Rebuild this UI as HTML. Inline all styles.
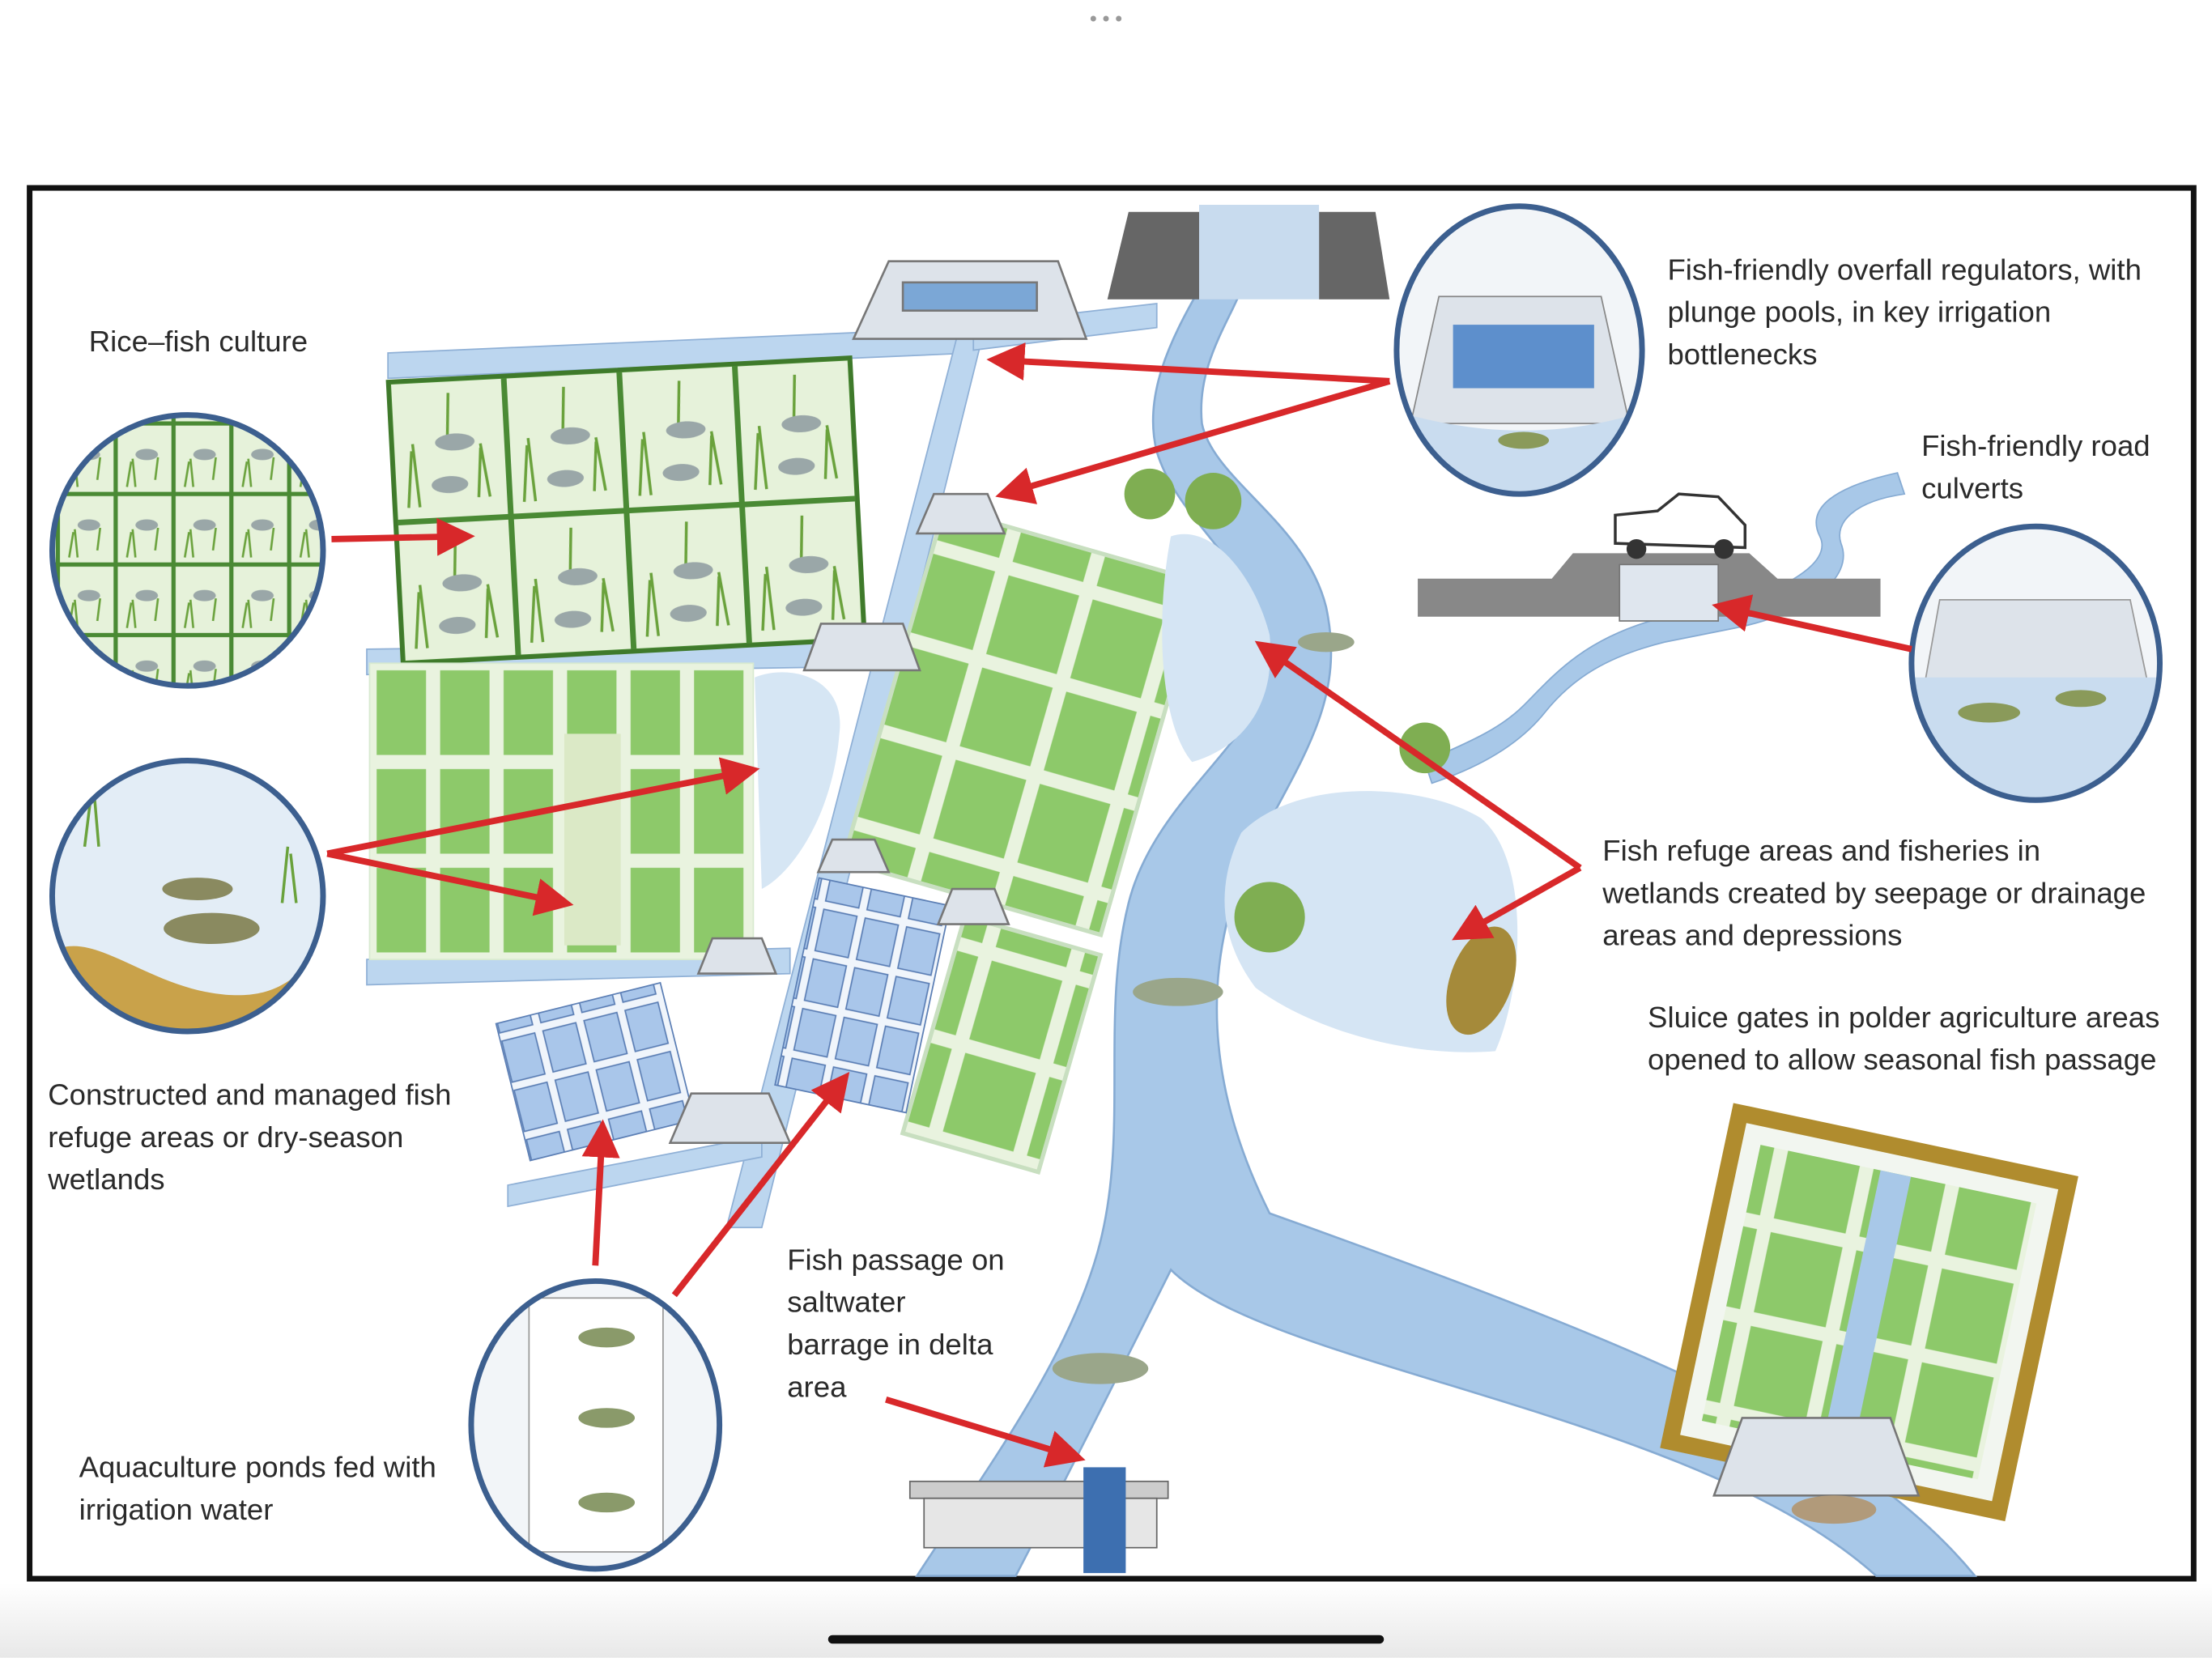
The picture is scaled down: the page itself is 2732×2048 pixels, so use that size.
<!DOCTYPE html>
<html><head><meta charset="utf-8"><style>
html,body{margin:0;padding:0;background:#fff;}
svg{display:block;}
text{font-family:"Liberation Sans",sans-serif;fill:#2a2a2a;font-size:21px;}
</style></head><body>
<svg width="2732" height="2048" viewBox="0 0 1568 1175" xmlns="http://www.w3.org/2000/svg">
<defs>
<linearGradient id="bot" x1="0" y1="0" x2="0" y2="1"><stop offset="0" stop-color="#fff"/><stop offset="1" stop-color="#e8e8e8"/></linearGradient>
<marker id="ah" markerWidth="6" markerHeight="6" refX="4.5" refY="3" orient="auto" markerUnits="strokeWidth"><path d="M0,0 L6,3 L0,6 Z" fill="#d8282a"/></marker>
<pattern id="green" x="262" y="470" width="45" height="70" patternUnits="userSpaceOnUse"><rect width="45" height="70" fill="#e9f3df"/><rect x="5" y="5" width="35" height="60" fill="#8dc96a"/></pattern>
<pattern id="green2" width="62" height="68" patternUnits="userSpaceOnUse"><rect width="62" height="68" fill="#e9f3df"/><rect x="5" y="5" width="52" height="58" fill="#8dc96a"/></pattern>
<pattern id="rice" x="280" y="262" width="82" height="100" patternUnits="userSpaceOnUse"><rect width="82" height="100" fill="#e6f2da"/><rect width="82" height="100" fill="none" stroke="#4a8a34" stroke-width="4"/><path d="M10,90 l4,-40 M18,90 l-3,-45 M60,85 l3,-35 M68,85 l-5,-38 M40,40 l2,-30" stroke="#6aa23c" stroke-width="2"/><ellipse cx="45" cy="45" rx="14" ry="6" fill="#9aa7a8"/><ellipse cx="40" cy="75" rx="13" ry="6" fill="#9aa7a8"/></pattern>
<pattern id="ricec" width="41" height="50" patternUnits="userSpaceOnUse"><rect width="41" height="50" fill="#e6f2da"/><rect width="41" height="50" fill="none" stroke="#4a8a34" stroke-width="3"/><path d="M8,45 l3,-18 M14,45 l-2,-20 M28,40 l2,-16" stroke="#6aa23c" stroke-width="1.5"/><ellipse cx="22" cy="22" rx="8" ry="4" fill="#9aa7a8"/></pattern>
<pattern id="blue" width="30" height="36" patternUnits="userSpaceOnUse"><rect width="30" height="36" fill="#f0f5fb"/><rect x="3" y="3" width="24" height="30" fill="#a9c6ea" stroke="#5c7fb5" stroke-width="1"/></pattern>
<clipPath id="c1"><circle cx="133" cy="390" r="96"/></clipPath>
<clipPath id="c2"><circle cx="133" cy="635" r="96"/></clipPath>
<clipPath id="c3"><ellipse cx="422" cy="1010" rx="88" ry="102"/></clipPath>
<clipPath id="c4"><ellipse cx="1077" cy="248" rx="87" ry="102"/></clipPath>
<clipPath id="c5"><ellipse cx="1443" cy="470" rx="88" ry="97"/></clipPath>
</defs>
<rect width="1568" height="1175" fill="#fff"/>
<rect x="0" y="1122" width="1568" height="53" fill="url(#bot)"/>
<circle cx="775" cy="13" r="2" fill="#999"/><circle cx="784" cy="13" r="2" fill="#999"/><circle cx="793" cy="13" r="2" fill="#999"/>
<rect x="587" y="1159" width="394" height="6" rx="3" fill="#111"/>
<rect x="21" y="133" width="1534" height="986" fill="#fff" stroke="#111" stroke-width="4"/>

<!-- river -->
<path d="M850,205 C830,240 810,280 820,320 C835,370 890,400 900,460 C905,520 820,560 800,640 C780,720 800,800 780,880 C760,960 700,1040 650,1117 L720,1117 C760,1040 800,960 830,900 C900,970 1200,1000 1330,1117 L1400,1117 C1320,1020 1180,960 900,860 C860,780 850,700 880,620 C920,540 955,500 940,430 C925,370 860,340 852,300 C848,260 870,230 880,205 Z" fill="#a8c8e8" stroke="#86abd3" stroke-width="1.5"/>
<path d="M1345,335 C1300,345 1280,360 1290,380 C1300,400 1260,420 1220,430 L1170,440 C1120,455 1100,480 1080,500 C1060,520 1030,530 1010,540 L1015,555 C1045,545 1075,530 1095,505 C1115,480 1140,465 1180,455 L1230,445 C1280,435 1315,410 1305,385 C1300,370 1315,355 1350,350 Z" fill="#a8c8e8" stroke="#86abd3"/>
<!-- canals -->
<path d="M275,250 L690,232 L690,250 L275,268 Z" fill="#bcd6ef" stroke="#8fb0d6"/>
<path d="M678,240 L696,240 L540,870 L515,870 Z" fill="#bcd6ef" stroke="#8fb0d6"/>
<path d="M690,230 L820,215 L820,232 L690,248 Z" fill="#bcd6ef" stroke="#8fb0d6"/>
<path d="M260,460 L630,455 L630,472 L260,478 Z" fill="#bcd6ef" stroke="#8fb0d6"/>
<path d="M260,680 L560,672 L560,690 L260,698 Z" fill="#bcd6ef" stroke="#8fb0d6"/>
<path d="M360,840 L540,805 L540,820 L360,855 Z" fill="#bcd6ef" stroke="#8fb0d6"/>

<g transform="rotate(-3 440 360)"><rect x="280" y="262" width="328" height="200" fill="url(#rice)" stroke="#3f7a2b" stroke-width="3"/></g>
<rect x="262" y="470" width="272" height="210" fill="url(#green)" stroke="#d8ead0"/>
<path d="M535,480 C560,470 600,480 595,520 C590,580 560,620 540,630 Z" fill="#d6e6f4"/>
<rect x="400" y="520" width="40" height="150" fill="#dbe9c6"/>
<g transform="rotate(16 720 510)"><rect x="630" y="380" width="190" height="260" fill="url(#green2)" stroke="#c8dfc0" stroke-width="3"/></g>
<g transform="rotate(16 710 740)"><rect x="660" y="660" width="100" height="160" fill="url(#green2)" stroke="#c8dfc0" stroke-width="3"/></g>
<g transform="rotate(12 610 700)"><rect x="565" y="630" width="95" height="150" fill="url(#blue)" stroke="#5c7fb5"/></g>
<g transform="rotate(-14 420 760)"><rect x="362" y="710" width="120" height="100" fill="url(#blue)" stroke="#5c7fb5"/></g>

<g fill="#dde3ea" stroke="#777" stroke-width="1.5">
<path d="M605,240 L630,185 L750,185 L770,240 Z"/><rect x="640" y="200" width="95" height="20" fill="#7ba7d6"/>
<path d="M650,378 L662,350 L700,350 L712,378 Z"/>
<path d="M570,475 L582,442 L640,442 L652,475 Z"/>
<path d="M580,618 L590,595 L620,595 L630,618 Z"/>
<path d="M665,655 L675,630 L705,630 L715,655 Z"/>
<path d="M495,690 L505,665 L540,665 L550,690 Z"/>
<path d="M475,810 L490,775 L545,775 L560,810 Z"/>
</g>
<path d="M785,212 L800,150 L850,150 L850,212 Z" fill="#666"/>
<path d="M935,150 L975,150 L985,212 L935,212 Z" fill="#666"/>
<rect x="850" y="145" width="85" height="67" fill="#c8dbee"/>
<path d="M1005,410 L1100,410 L1115,392 L1240,392 L1260,410 L1333,410 L1333,437 L1005,437 Z" fill="#888"/>
<rect x="1148" y="400" width="70" height="40" fill="#dfe6ee" stroke="#777"/>
<path d="M1145,385 L1145,365 L1175,362 L1190,350 L1218,352 L1237,372 L1237,388 Z" fill="#fff" stroke="#333" stroke-width="2"/>
<circle cx="1160" cy="389" r="7" fill="#333"/><circle cx="1222" cy="389" r="7" fill="#333"/>
<path d="M880,590 C920,550 1010,555 1050,580 C1085,610 1080,700 1060,745 C1000,750 930,730 890,700 C860,660 865,620 880,590 Z" fill="#d5e5f4"/>
<circle cx="900" cy="650" r="25" fill="#7fae52"/><circle cx="1010" cy="530" r="18" fill="#7fae52"/>
<ellipse cx="1050" cy="695" rx="22" ry="40" fill="#a58a3a" transform="rotate(20 1050 695)"/>
<path d="M830,380 C860,370 890,410 900,450 C905,500 880,530 845,540 C820,510 820,430 830,380 Z" fill="#d5e5f4"/>
<circle cx="815" cy="350" r="18" fill="#7fae52"/><circle cx="860" cy="355" r="20" fill="#7fae52"/>
<g transform="rotate(12 1325 930)"><rect x="1200" y="805" width="250" height="250" fill="#b08c2e"/><rect x="1212" y="817" width="226" height="226" fill="#f2f6f0"/>
<rect x="1225" y="830" width="200" height="200" fill="url(#green2)"/><rect x="1312" y="830" width="22" height="200" fill="#a8c8e8"/></g>
<path d="M1215,1060 L1235,1005 L1340,1005 L1360,1060 Z" fill="#dde3ea" stroke="#777" stroke-width="1.5"/>
<rect x="645" y="1050" width="183" height="12" fill="#ccc" stroke="#666"/>
<rect x="655" y="1062" width="165" height="35" fill="#e6e6e6" stroke="#666"/>
<rect x="768" y="1040" width="30" height="75" fill="#3d6fb0"/>
<ellipse cx="835" cy="703" rx="32" ry="10" fill="#9aa68a"/><ellipse cx="780" cy="970" rx="34" ry="11" fill="#9aa68a"/><ellipse cx="1300" cy="1070" rx="30" ry="10" fill="#b19a7a"/><ellipse cx="940" cy="455" rx="20" ry="7" fill="#9aa68a"/>

<!-- circles -->
<circle cx="133" cy="390" r="96" fill="url(#ricec)"/>
<circle cx="133" cy="635" r="96" fill="#e3edf6"/>
<g clip-path="url(#c2)">
<path d="M30,680 C60,650 100,700 160,705 C200,708 210,690 235,670 L235,740 L30,740 Z" fill="#c9a24a"/>
<ellipse cx="150" cy="658" rx="34" ry="11" fill="#8a8a60"/><ellipse cx="140" cy="630" rx="25" ry="8" fill="#8a8a60"/>
<path d="M60,600 l5,-40 M70,600 l-3,-35 M200,640 l4,-40 M210,640 l-4,-35" stroke="#6aa23c" stroke-width="2"/>
</g>
<ellipse cx="422" cy="1010" rx="88" ry="102" fill="#f2f5f8"/>
<g clip-path="url(#c3)">
<rect x="375" y="920" width="95" height="180" fill="#fff" stroke="#999"/>
<ellipse cx="430" cy="948" rx="20" ry="7" fill="#8a9a6a"/><ellipse cx="430" cy="1005" rx="20" ry="7" fill="#8a9a6a"/><ellipse cx="430" cy="1065" rx="20" ry="7" fill="#8a9a6a"/>
</g>
<ellipse cx="1077" cy="248" rx="87" ry="102" fill="#f2f5f8"/>
<g clip-path="url(#c4)">
<path d="M1020,210 L1135,210 L1155,300 L1000,300 Z" fill="#dde3ea" stroke="#888"/>
<rect x="1030" y="230" width="100" height="45" fill="#5d8fcc"/>
<path d="M985,290 C1050,310 1110,310 1170,290 L1170,360 L985,360 Z" fill="#c9dcef"/>
<ellipse cx="1080" cy="312" rx="18" ry="6" fill="#8a9a5a"/>
</g>
<ellipse cx="1443" cy="470" rx="88" ry="97" fill="#f2f5f8"/>
<g clip-path="url(#c5)">
<path d="M1375,425 L1510,425 L1530,520 L1358,520 Z" fill="#dde3ea" stroke="#999"/>
<path d="M1350,480 L1540,480 L1540,570 L1350,570 Z" fill="#c9dcef"/>
<ellipse cx="1410" cy="505" rx="22" ry="7" fill="#8a9a5a"/><ellipse cx="1475" cy="495" rx="18" ry="6" fill="#8a9a5a"/>
</g>
<g stroke="#3c5f8f" stroke-width="4" fill="none">
<circle cx="133" cy="390" r="96"/><circle cx="133" cy="635" r="96"/>
<ellipse cx="422" cy="1010" rx="88" ry="102"/><ellipse cx="1077" cy="248" rx="87" ry="102"/><ellipse cx="1443" cy="470" rx="88" ry="97"/>
</g>

<g stroke="#d8282a" stroke-width="4.5" fill="none" marker-end="url(#ah)">
<line x1="985" y1="270" x2="706" y2="255"/>
<line x1="985" y1="270" x2="712" y2="350"/>
<line x1="235" y1="382" x2="330" y2="380"/>
<line x1="232" y1="605" x2="532" y2="546"/>
<line x1="232" y1="605" x2="400" y2="640"/>
<line x1="1355" y1="460" x2="1220" y2="430"/>
<line x1="1120" y1="615" x2="895" y2="458"/>
<line x1="1120" y1="615" x2="1035" y2="663"/>
<line x1="422" y1="897" x2="427" y2="800"/>
<line x1="478" y1="918" x2="598" y2="765"/>
<line x1="628" y1="992" x2="763" y2="1033"/>
</g>

<text x="63" y="249">Rice–fish culture</text>
<text x="1182" y="198">Fish-friendly overfall regulators, with</text>
<text x="1182" y="228">plunge pools, in key irrigation</text>
<text x="1182" y="258">bottlenecks</text>
<text x="1362" y="323">Fish-friendly road</text>
<text x="1362" y="353">culverts</text>
<text x="1136" y="610">Fish refuge areas and fisheries in</text>
<text x="1136" y="640">wetlands created by seepage or drainage</text>
<text x="1136" y="670">areas and depressions</text>
<text x="1168" y="728">Sluice gates in polder agriculture areas</text>
<text x="1168" y="758">opened to allow seasonal fish passage</text>
<text x="34" y="783">Constructed and managed fish</text>
<text x="34" y="813">refuge areas or dry-season</text>
<text x="34" y="843">wetlands</text>
<text x="558" y="900">Fish passage on</text>
<text x="558" y="930">saltwater</text>
<text x="558" y="960">barrage in delta</text>
<text x="558" y="990">area</text>
<text x="56" y="1047">Aquaculture ponds fed with</text>
<text x="56" y="1077">irrigation water</text>
</svg>
</body></html>
